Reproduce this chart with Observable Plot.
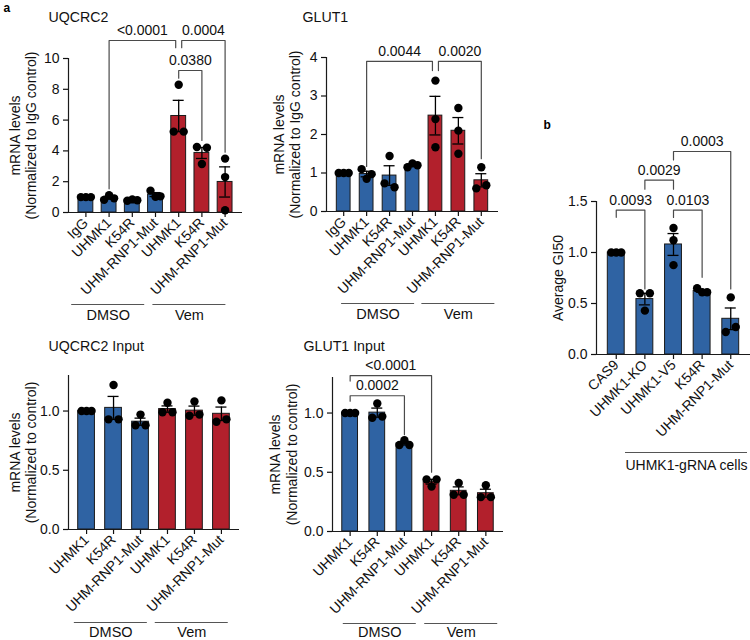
<!DOCTYPE html>
<html><head><meta charset="utf-8">
<script src="https://cdn.jsdelivr.net/npm/d3@7"></script>
<script src="https://cdn.jsdelivr.net/npm/@observablehq/plot@0.6"></script>
<style>
body{margin:0;background:#fff;}
#root{position:relative;width:750px;height:640px;overflow:hidden;font-family:"Liberation Sans",Arial,sans-serif;}
#root > div{position:absolute;}
</style></head><body><div id="root"></div>
<script>
// ---------- DATA ----------
const uqLabels = ["IgG","UHMK1","K54R","UHM-RNP1-Mut","UHMK1","K54R","UHM-RNP1-Mut"];
const uqTreat = ["DMSO","DMSO","DMSO","DMSO","Vem","Vem","Vem"];
const uqReps = [[1.0,1.0,1.0],[0.82,1.12,0.92],[0.76,0.85,0.80],[1.42,1.02,1.05],[5.25,8.3,5.25],[4.25,3.15,4.2],[0.15,3.5,2.3]];
const uqTicks = [0,2,4,6,8,10];
const uqBrackets = [[1,4,"<0.0001",11.17,1.54,10.7],[4,6,"0.0004",11.17,10.7,3.92],[4,5,"0.0380",9.22,8.72,4.68]];

const glLabels = ["IgG","UHMK1","K54R","UHM-RNP1-Mut","UHMK1","K54R","UHM-RNP1-Mut"];
const glTreat = ["DMSO","DMSO","DMSO","DMSO","Vem","Vem","Vem"];
const glReps = [[1,1,1],[1.1,0.85,0.97],[1.44,0.73,0.63],[1.15,1.25,1.2],[3.4,2.4,1.67],[2.69,2.1,1.5],[0.6,1.15,0.68]];
const glTicks = [0,1,2,3,4];
const glBrackets = [[1,4,"0.0044",3.9,1.17,3.66],[4,6,"0.0020",3.9,3.66,1.37]];

const uiLabels = ["UHMK1","K54R","UHM-RNP1-Mut","UHMK1","K54R","UHM-RNP1-Mut"];
const uiTreat = ["DMSO","DMSO","DMSO","Vem","Vem","Vem"];
const uiReps = [[1,1,1],[0.93,1.22,0.93],[0.88,0.97,0.88],[0.99,1.07,0.99],[0.96,1.08,0.97],[0.91,1.09,0.93]];
const uiTicks = [0,0.5,1.0];
const uiBrackets = [];

const giLabels = ["UHMK1","K54R","UHM-RNP1-Mut","UHMK1","K54R","UHM-RNP1-Mut"];
const giTreat = ["DMSO","DMSO","DMSO","Vem","Vem","Vem"];
const giReps = [[1,1,1],[0.96,1.08,0.97],[0.73,0.77,0.73],[0.44,0.38,0.44],[0.31,0.41,0.31],[0.29,0.39,0.29]];
const giTicks = [0,0.5,1.0];
const giBrackets = [[0,2,"0.0002",1.146,1.10,0.817],[0,3,"<0.0001",1.315,1.27,0.50]];

const bLabels = ["CAS9","UHMK1-KO","UHMK1-V5","K54R","UHM-RNP1-Mut"];
const bTreat = ["UHMK1-gRNA cells","UHMK1-gRNA cells","UHMK1-gRNA cells","UHMK1-gRNA cells","UHMK1-gRNA cells"];
const bReps = [[1,1,1],[0.6,0.43,0.6],[1.24,1.12,0.876],[0.65,0.61,0.61],[0.22,0.56,0.27]];
const bTicks = [0,0.5,1.0,1.5];
const bBrackets = [[0,1,"0.0093",1.416,1.345,0.643],[1,2,"0.0029",1.709,1.621,1.621],[2,3,"0.0103",1.416,1.343,0.757],[2,4,"0.0003",1.99,1.908,0.643]];

// ---------- STYLE ----------
const BLUE = "#2f63a3", RED = "#b2202c";
const FONT = "Liberation Sans, Arial, Helvetica, sans-serif";
const FS = 14;

function panel(cfg) {
  const {labels, treat, reps, brackets, ticks, yDomain, xDomain, width, height, m, colors, barFrac,
         title, titleDx, titleDy, yLabels, yLabelDx, groupDy, groupTextDy, groupShift, groupHalf, groupFS, tickFmt, extra} = cfg;
  const plotW = width - m.left - m.right;
  const plotH = height - m.top - m.bottom;
  const step = plotW / (xDomain[1] - xDomain[0]);
  const ppu = plotH / (yDomain[1] - yDomain[0]);
  const idx = labels.map((_, i) => i);
  const bars = reps.map((r, i) => ({i, mean: d3.mean(r), sem: d3.deviation(r) / Math.sqrt(r.length), fill: colors[treat[i]]}));
  const pts = [];
  reps.forEach((r, i) => {
    const order = r.map((v, j) => ({v, j})).sort((a, b) => a.v - b.v);
    const clusters = []; let cur = [order[0]];
    for (let k = 1; k < order.length; k++) {
      if ((order[k].v - order[k-1].v) * ppu < 8) cur.push(order[k]); else { clusters.push(cur); cur = [order[k]]; }
    }
    clusters.push(cur);
    clusters.forEach(c => { c.sort((a, b) => a.j - b.j); const n = c.length;
      c.forEach((p, k) => { const off = n === 1 ? 0 : (k - (n - 1) / 2) * (10 / (n - 1)); pts.push({x: i + off / step, y: p.v}); }); });
  });
  const hb = barFrac / 2, cap = 5.5 / step;
  const caps = bars.flatMap(b => b.sem > 0 ? [{i: b.i, y: b.mean - b.sem}, {i: b.i, y: b.mean + b.sem}] : []);
  const same = (a, b) => Math.abs(a[3] - b[3]) < 1e-9;
  const bl = [], bt = [];
  brackets.forEach((b, k) => {
    const [f, t, lab, lvl, lf, lt] = b;
    const oF = brackets.some(o => o !== b && same(o, b) && o[1] === f) ? 3 / step : 0;
    const oT = brackets.some(o => o !== b && same(o, b) && o[0] === t) ? -3 / step : 0;
    bl.push({id: k, x: f + oF, y: lf}, {id: k, x: f + oF, y: lvl}, {id: k, x: t + oT, y: lvl}, {id: k, x: t + oT, y: lt});
    bt.push({x: (f + oF + t + oT) / 2, y: lvl, text: lab});
  });
  const groups = [];
  treat.forEach((g, i) => { const last = groups[groups.length - 1]; if (last && last.label === g) last.to = i; else groups.push({label: g, from: i, to: i}); });
  groups.forEach(g => { g.c = (g.from + g.to) / 2 + groupShift / step; g.x1 = g.c - groupHalf / step; g.x2 = g.c + groupHalf / step; });

  const marks = [
    Plot.ruleY([yDomain[0]], {stroke: "#1a1a1a", strokeWidth: 1.2}),
    Plot.ruleX([xDomain[0]], {stroke: "#1a1a1a", strokeWidth: 1.2}),
    Plot.axisY({ticks, tickSize: 5, tickPadding: 4, tickFormat: tickFmt, label: null, strokeWidth: 1.2, fontSize: FS, fill: "#111"}),
    Plot.axisX({ticks: idx, tickSize: 5, tickPadding: 3, tickFormat: i => labels[i], tickRotate: -45, label: null, strokeWidth: 1.2, fontSize: FS, fill: "#111"}),
    Plot.rect(bars, {x1: d => d.i - hb, x2: d => d.i + hb, y1: 0, y2: "mean", fill: "fill", stroke: "#1a1a1a", strokeWidth: 1}),
    Plot.ruleX(bars.filter(b => b.sem > 0), {x: "i", y1: d => d.mean - d.sem, y2: d => d.mean + d.sem, stroke: "#000", strokeWidth: 1.3}),
    Plot.ruleY(caps, {x1: d => d.i - cap, x2: d => d.i + cap, y: "y", stroke: "#000", strokeWidth: 1.3}),
    Plot.dot(pts, {x: "x", y: "y", r: 4.2, fill: "#000", stroke: "none"}),
    Plot.line(bl, {x: "x", y: "y", z: "id", stroke: "#4a4a4a", strokeWidth: 1.2, curve: "linear"}),
    Plot.text(bt, {x: "x", y: "y", text: "text", dy: -10, fill: "#111", fontSize: FS}),
    Plot.ruleY(groups, {x1: "x1", x2: "x2", y: () => yDomain[0], dy: groupDy, stroke: "#555", strokeWidth: 1.2}),
    Plot.text(groups, {x: "c", y: () => yDomain[0], dy: groupTextDy, text: "label", fill: "#111", fontSize: groupFS}),
    Plot.text([title], {frameAnchor: "top-left", textAnchor: "start", lineAnchor: "middle", dx: titleDx, dy: titleDy, fontSize: 14.2, fill: "#111"}),
    ...yLabels.map((t, k) => Plot.text([t], {frameAnchor: "left", textAnchor: "middle", lineAnchor: "middle", rotate: -90, dx: yLabelDx[k], fill: "#111", fontSize: FS})),
    ...(extra || [])
  ];
  return Plot.plot({
    width, height, marginLeft: m.left, marginRight: m.right, marginTop: m.top, marginBottom: m.bottom,
    x: {type: "linear", domain: xDomain},
    y: {type: "linear", domain: yDomain},
    style: {fontFamily: FONT, fontSize: FS + "px", color: "#111", background: "transparent", overflow: "visible"},
    marks
  });
}

function place(svg, left, top) {
  const d = document.createElement("div");
  d.style.left = left + "px"; d.style.top = top + "px";
  d.appendChild(svg);
  document.getElementById("root").appendChild(d);
}

const colorsAV = {DMSO: BLUE, Vem: RED};

place(panel({
  labels: uqLabels, treat: uqTreat, reps: uqReps, brackets: uqBrackets, ticks: uqTicks,
  yDomain: [0, 10], xDomain: [-0.75, 6.75], width: 250, height: 320,
  m: {left: 68, right: 8, top: 58, bottom: 108}, colors: colorsAV, barFrac: 0.64,
  title: "UQCRC2", titleDx: -20, titleDy: -41,
  yLabels: ["mRNA levels", "(Normalized to IgG control)"], yLabelDx: [-53, -37],
  groupDy: 92, groupTextDy: 103, groupShift: -12.5, groupHalf: 36.5, groupFS: 14.5, tickFmt: d3.format("d"),
  extra: [Plot.text(["a"], {frameAnchor: "top-left", textAnchor: "start", lineAnchor: "middle", dx: -65, dy: -50, fontWeight: "bold", fontSize: 12, fill: "#000"})]
}), 0, 0);

place(panel({
  labels: glLabels, treat: glTreat, reps: glReps, brackets: glBrackets, ticks: glTicks,
  yDomain: [0, 4], xDomain: [-0.75, 6.75], width: 260, height: 320,
  m: {left: 76, right: 12, top: 57, bottom: 109}, colors: colorsAV, barFrac: 0.6,
  title: "GLUT1", titleDx: -24, titleDy: -40,
  yLabels: ["mRNA levels", "(Normalized to IgG control)"], yLabelDx: [-47, -31],
  groupDy: 92, groupTextDy: 103, groupShift: 0, groupHalf: 36.5, groupFS: 14.5, tickFmt: d3.format("d")
}), 250, 0);

place(panel({
  labels: uiLabels, treat: uiTreat, reps: uiReps, brackets: uiBrackets, ticks: uiTicks,
  yDomain: [0, 1.3], xDomain: [-0.67, 5.67], width: 250, height: 320,
  m: {left: 68, right: 11, top: 55, bottom: 111}, colors: colorsAV, barFrac: 0.62,
  title: "UQCRC2 Input", titleDx: -20, titleDy: -29,
  yLabels: ["mRNA levels", "(Normalized to control)"], yLabelDx: [-53, -37],
  groupDy: 93, groupTextDy: 103, groupShift: -2.7, groupHalf: 36.5, groupFS: 14.5, tickFmt: d3.format(".1f")
}), 0, 320);

place(panel({
  labels: giLabels, treat: giTreat, reps: giReps, brackets: giBrackets, ticks: giTicks,
  yDomain: [0, 1.3], xDomain: [-0.65, 5.65], width: 260, height: 320,
  m: {left: 82, right: 7, top: 57, bottom: 109}, colors: colorsAV, barFrac: 0.58,
  title: "GLUT1 Input", titleDx: -29, titleDy: -31,
  yLabels: ["mRNA levels", "(Normalized to control)"], yLabelDx: [-57, -40],
  groupDy: 92, groupTextDy: 101, groupShift: 2.5, groupHalf: 36.5, groupFS: 14.5, tickFmt: d3.format(".1f")
}), 250, 320);

place(panel({
  labels: bLabels, treat: bTreat, reps: bReps, brackets: bBrackets, ticks: bTicks,
  yDomain: [0, 1.5], xDomain: [-0.69, 4.69], width: 240, height: 640,
  m: {left: 86, right: 0, top: 201, bottom: 286}, colors: {"UHMK1-gRNA cells": BLUE}, barFrac: 0.59,
  title: "", titleDx: 0, titleDy: 0,
  yLabels: ["Average GI50"], yLabelDx: [-38],
  groupDy: 98, groupTextDy: 111, groupShift: 13, groupHalf: 61, groupFS: 14, tickFmt: d3.format(".1f"),
  extra: [Plot.text(["b"], {frameAnchor: "top-left", textAnchor: "start", lineAnchor: "middle", dx: -53, dy: -76, fontWeight: "bold", fontSize: 12, fill: "#000"})]
}), 510, 0);
</script></body></html>
